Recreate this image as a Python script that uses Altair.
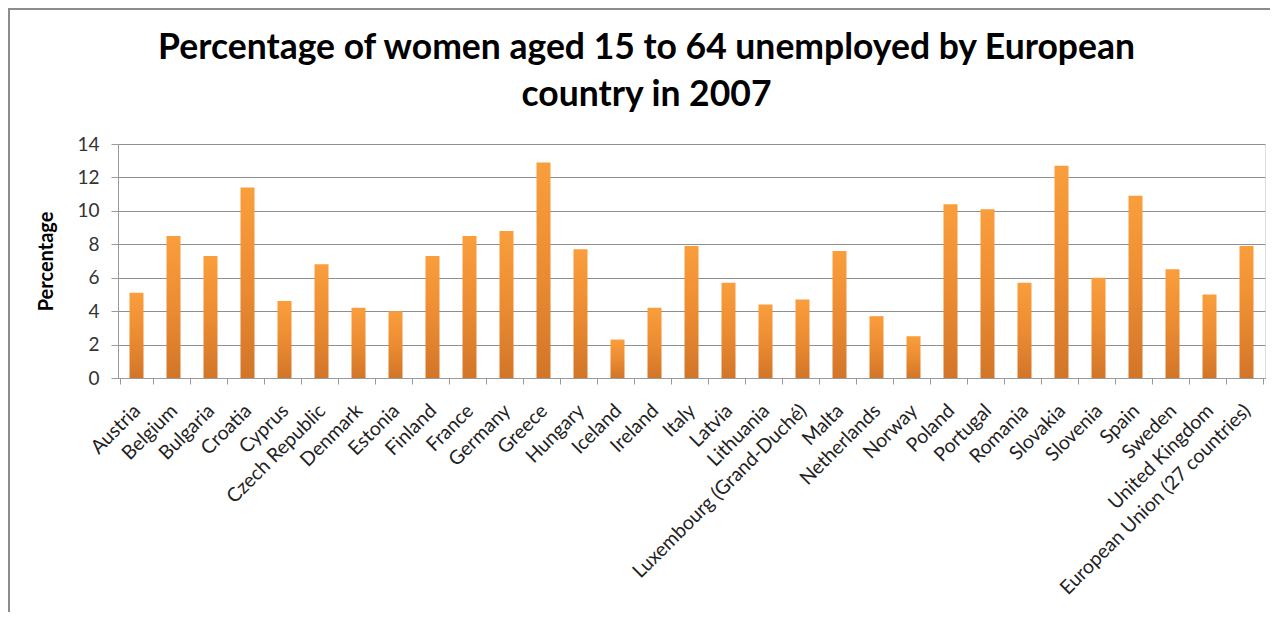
import altair as alt
import pandas as pd

countries = ["Austria", "Belgium", "Bulgaria", "Croatia", "Cyprus", "Czech Republic",
             "Denmark", "Estonia", "Finland", "France", "Germany", "Greece", "Hungary",
             "Iceland", "Ireland", "Italy", "Latvia", "Lithuania",
             "Luxembourg (Grand-Duché)", "Malta", "Netherlands", "Norway", "Poland",
             "Portugal", "Romania", "Slovakia", "Slovenia", "Spain", "Sweden",
             "United Kingdom", "European Union (27 countries)"]
values = [5.1, 8.5, 7.3, 11.4, 4.6, 6.8, 4.2, 4.0, 7.3, 8.5, 8.8, 12.9, 7.7,
          2.3, 4.2, 7.9, 5.7, 4.4, 4.7, 7.6, 3.7, 2.5, 10.4, 10.1, 5.7, 12.7,
          6.0, 10.9, 6.5, 5.0, 7.9]
y_ticks = [0, 2, 4, 6, 8, 10, 12, 14]

df = pd.DataFrame({"Country": countries, "Percentage": values})

W, H = 1147, 234
PAD_L, PAD_T = 110, 136
TOTAL_W, TOTAL_H = 1262, 604

font = "Lato"

grad = alt.Gradient(
    gradient="linear",
    stops=[alt.GradientStop(color="#FA9E3C", offset=0),
           alt.GradientStop(color="#EC8C32", offset=0.5),
           alt.GradientStop(color="#D27528", offset=1)],
    x1=0, x2=0, y1=0, y2=1,
)

bars = alt.Chart(df).mark_bar(color=grad, size=14).encode(
    x=alt.X("Country:N", sort=countries, title=None,
            axis=alt.Axis(labelAngle=-45, labelFont=font, labelFontSize=19.5,
                          labelColor="#222222", tickBand="extent", tickSize=6,
                          tickColor="#9a9a9a", domainColor="#9a9a9a",
                          labelPadding=17, labelOffset=-6, labelLimit=400)),
    y=alt.Y("Percentage:Q", title="Percentage",
            scale=alt.Scale(domain=[0, 14], nice=False),
            axis=alt.Axis(values=y_ticks, labelFont=font, labelFontSize=19,
                          labelColor="#333333", tickSize=7, tickColor="#9a9a9a",
                          domainColor="#9a9a9a", gridColor="#8f8f8f",
                          labelPadding=12, titleFont=font, titleFontSize=20,
                          titleFontWeight="bold", titleColor="#000000",
                          titlePadding=20)),
)

frame = alt.Chart(pd.DataFrame({"a": [0]})).mark_rect(
    fill=None, stroke="#8c8c8c", strokeWidth=2, clip=False
).encode(
    x=alt.value(-PAD_L + 1), x2=alt.value(W + 200),
    y=alt.value(-PAD_T + 1), y2=alt.value(H + 400),
)

chart = alt.layer(frame, bars).properties(
    width=W, height=H,
    autosize=alt.AutoSizeParams(type="none"),
    padding={"left": PAD_L, "top": PAD_T,
             "right": TOTAL_W - PAD_L - W, "bottom": TOTAL_H - PAD_T - H},
    title=alt.Title(
        ["Percentage of women aged 15 to 64 unemployed by European",
         "country in 2007"],
        font=font, fontSize=35.5, fontWeight="bold", color="#000000",
        anchor="middle", dx=-45, baseline="top", offset=-105, lineHeight=47,
    ),
).configure_view(stroke=None).configure(background="white")

chart.save("out.html", embed_options={"renderer": "svg", "actions": False})
